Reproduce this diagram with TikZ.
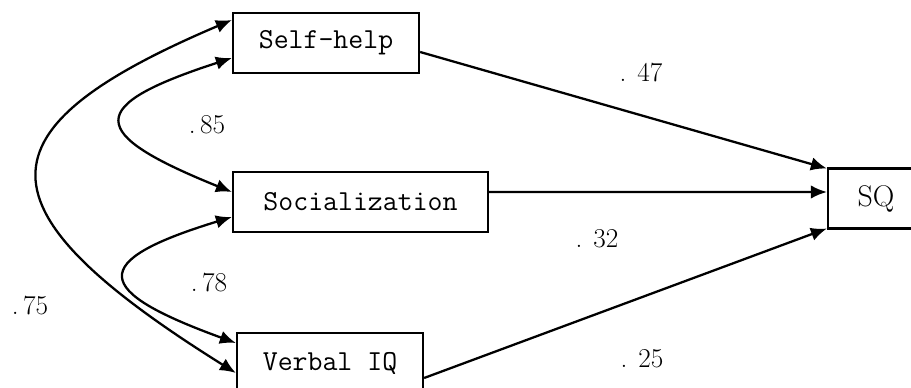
\documentclass[tikz,border=0pt]{standalone}
\usetikzlibrary{arrows.meta,calc}
\tikzset{
    varbox/.style={draw, line width=1.3pt, minimum height=1.2cm, inner sep=0pt, font=\fontsize{16.5}{20}\selectfont\ttfamily},
    solidarr/.style={-{Latex[length=0.32cm,width=0.27cm]}, line width=1.3pt},
    corrarr/.style={{Latex[length=0.32cm,width=0.27cm]}-{Latex[length=0.32cm,width=0.27cm]}, line width=1.3pt},
    coef/.style={font=\fontsize{15.5}{18}\selectfont, inner sep=0pt},
}
\begin{document}
\begin{tikzpicture}[x=0.02cm, y=0.02cm]
\useasboundingbox (0,0) rectangle (911,388);
\clip (0,0) rectangle (911,388);
\node[varbox, minimum width=3.72cm] (self) at (326,345) {Self-help};
\node[varbox, minimum width=5.1cm] (soc) at (360.5,186) {Socialization};
\node[varbox, minimum width=3.72cm] (viq) at (330,25) {Verbal IQ};
\node[varbox, minimum width=1.92cm, font=\fontsize{17}{20}\selectfont] (sq) at (876,189.5) {SQ};

\draw[solidarr] ($(self.east)+(0,-9)$) -- ($(sq.west)+(0,30)$);
\draw[solidarr] ($(soc.east)+(0,10)$) -- ($(sq.west)+(0,6.5)$);
\draw[solidarr] ($(viq.east)+(0,-15)$) -- ($(sq.west)+(0,-30)$);

\draw[corrarr] ($(self.west)+(0,-15)$) to[out=198, in=158, out distance=3.1cm, in distance=3.15cm] ($(soc.west)+(0,10)$);
\draw[corrarr] ($(soc.west)+(0,-15)$) to[out=197, in=160, out distance=3.05cm, in distance=3.05cm] ($(viq.west)+(0,20)$);
\draw[corrarr] ($(self.west)+(0,23)$) to[out=203, in=148, out distance=5.6cm, in distance=6.2cm] ($(viq.west)+(0,-10)$);

\node[coef] (c47) at (641,315) {. 47};
\node[coef] (c85) at (207,263) {.\,85};
\node[coef] (c32) at (597,149) {. 32};
\node[coef] (c78) at (209,105) {.\,78};
\node[coef] (c75) at (30,82) {.\,75};
\node[coef] (c25) at (642,29) {. 25};
\end{tikzpicture}
\end{document}
